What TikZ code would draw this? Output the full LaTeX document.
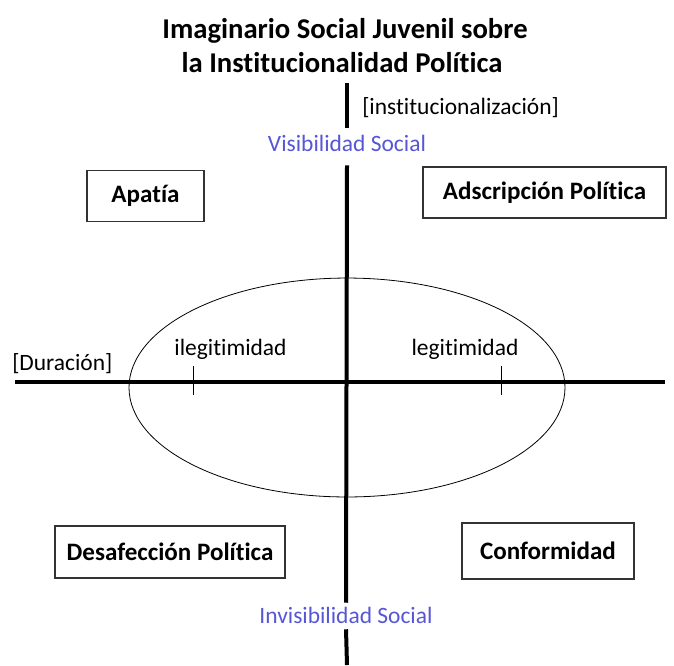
\documentclass[tikz,border=0pt]{standalone}
\usepackage{fontspec}
\setmainfont{Carlito}[Ligatures=NoCommon]
\usepackage{tikz}
\usetikzlibrary{positioning}
\definecolor{azulvis}{RGB}{86,86,214}

\begin{document}
\begin{tikzpicture}[x=0.75pt, y=-0.75pt,
        eje/.style = {line width=3pt},
        cuadro/.style = {draw=black!80, line width=1.1pt, inner sep=0pt,
            font=\bfseries\fontsize{18.8}{22}\selectfont},
        etiqueta/.style = {font=\fontsize{17.6}{21}\selectfont, inner sep=0pt},
        visib/.style = {etiqueta, text=azulvis}]
            \useasboundingbox (0,0) rectangle (674,665);

            % Title
            \node [font=\bfseries\fontsize{21.5}{25}\selectfont, anchor=base] (titulo1) at (345,38) {Imaginario Social Juvenil sobre};
            \node [font=\bfseries\fontsize{21.5}{25}\selectfont, anchor=base] (titulo2) at (342,72) {la Institucionalidad Política};

            % Vertical axis (broken by the two labels)
            \coordinate (arriba) at (347,83);
            \coordinate (abajo) at (347,665);
            \node [visib, anchor=base, text height=13.5pt, text depth=6.75pt, inner ysep=3.75pt] (vis) at (347,151) {Visibilidad Social};
            \node [visib, anchor=base, text height=12.75pt, text depth=2.25pt, inner ysep=2.25pt] (invis) at (346,623) {Invisibilidad Social};
            \draw [eje] (arriba) -- (vis.north);
            \draw [eje] (vis.south) -- (invis.north);
            \draw [eje] (invis.south) -- (abajo);
            \node [etiqueta, anchor=base west] (instit) at (362,114) {[institucionalización]};

            % Horizontal axis
            \coordinate (izq) at (15,382);
            \coordinate (der) at (665,382);
            \draw [eje] (izq) -- (der);
            \node [etiqueta, anchor=base west] (duracion) at (12,370) {[Duración]};

            % Ellipse and ticks
            \draw [line width=0.6pt] (347,387.5) ellipse [x radius=163.5pt, y radius=82.1pt];
            \draw [line width=0.75pt] (193,366) -- (193,395);
            \draw [line width=0.75pt] (501,366) -- (501,395);
            \node [etiqueta, anchor=base] (ilegit) at (230.5,355) {ilegitimidad};
            \node [etiqueta, anchor=base] (legit) at (465,355) {legitimidad};

            % Quadrant boxes
            \node [cuadro, minimum width=87.75pt, minimum height=38.25pt] (apatia) at (145.5,196) {Apatía\hspace{8pt}};
            \node [cuadro, minimum width=182.25pt, minimum height=38.25pt] (adscrip) at (544.5,192.5) {Adscripción Política};
            \node [cuadro, minimum width=172.5pt, minimum height=39pt] (desafec) at (170,552) {Desafección Política};
            \node [cuadro, minimum width=129pt, minimum height=42pt] (conform) at (548,551) {Conformidad};
        \end{tikzpicture}
\end{document}
